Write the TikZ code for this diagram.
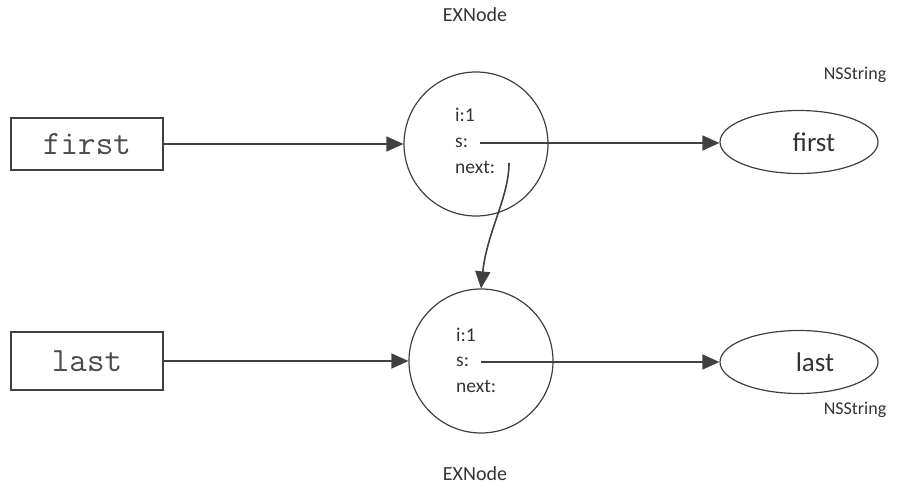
\documentclass[tikz,border=0pt]{standalone}
\usepackage{fontspec}
\setmainfont{Carlito}
\usetikzlibrary{arrows.meta,shapes.geometric}
\definecolor{ln}{HTML}{404040}
\definecolor{tx}{HTML}{333333}
\begin{document}
\begin{tikzpicture}[x=1pt,y=-1pt,
  lbl/.style={font=\fontsize{20}{24}\selectfont, text=tx, inner sep=0},
  nslbl/.style={font=\fontsize{18}{22}\selectfont, text=tx, inner sep=0},
  fld/.style={font=\fontsize{19.5}{22}\selectfont, text=tx, inner sep=0, anchor=west},
  varbox/.style={draw=ln, line width=1.5pt, minimum width=152pt, minimum height=52pt,
    font=\ttfamily\fontsize{34}{36}\selectfont, text=black!70, inner sep=0},
  obj/.style={circle, draw=ln, line width=1.2pt, minimum size=144pt, inner sep=0},
  str/.style={ellipse, draw=ln, line width=1.2pt, minimum width=158pt, minimum height=63pt, inner sep=0},
  strtxt/.style={font=\fontsize{27}{30}\selectfont, text=tx, inner sep=0},
  arr/.style={draw=ln, line width=1.6pt, -{Triangle[length=17pt,width=15pt]}}]
\useasboundingbox (0,0) rectangle (901,489);

% variable boxes
\node[varbox] (v1) at (87,144) {first};
\node[varbox, minimum height=58pt] (v2) at (87,361) {last};

% object circles
\node[obj] (c1) at (476,144) {};
\node[obj] (c2) at (481,361) {};

% fields
\node[fld] (i1) at (455,115) {i:1};
\node[fld] (s1) at (455,143) {s:};
\node[fld] (n1) at (455,167) {next:};
\node[fld] (i2) at (456,335) {i:1};
\node[fld] (s2) at (456,362) {s:};
\node[fld] (n2) at (456,386) {next:};

% strings
\node[str, label={[strtxt, xshift=15pt]center:first}] (str1) at (799,142) {};
\node[str, label={[strtxt, xshift=16pt]center:last}] (str2) at (799,362) {};

% labels
\node[lbl] (ex1) at (475,15) {EXNode};
\node[lbl] (ex2) at (475,474) {EXNode};
\node[nslbl] (ns1) at (855,75) {NSString};
\node[nslbl] (ns2) at (855,410) {NSString};

% connectors
\draw[arr] (v1.east) -- (c1.west);
\draw[arr] (v2.east) -- (c2.west);
\draw[arr] ([xshift=12pt]s1.east) -- (s1.east -| str1.west);
\draw[arr] ([xshift=12pt]s2.east) -- (s2.east -| str2.west);
\coordinate (nx1) at (509,163);
\draw[arr] (nx1) .. controls (509,197) and (487,232) .. (c2.north);
\end{tikzpicture}
\end{document}
